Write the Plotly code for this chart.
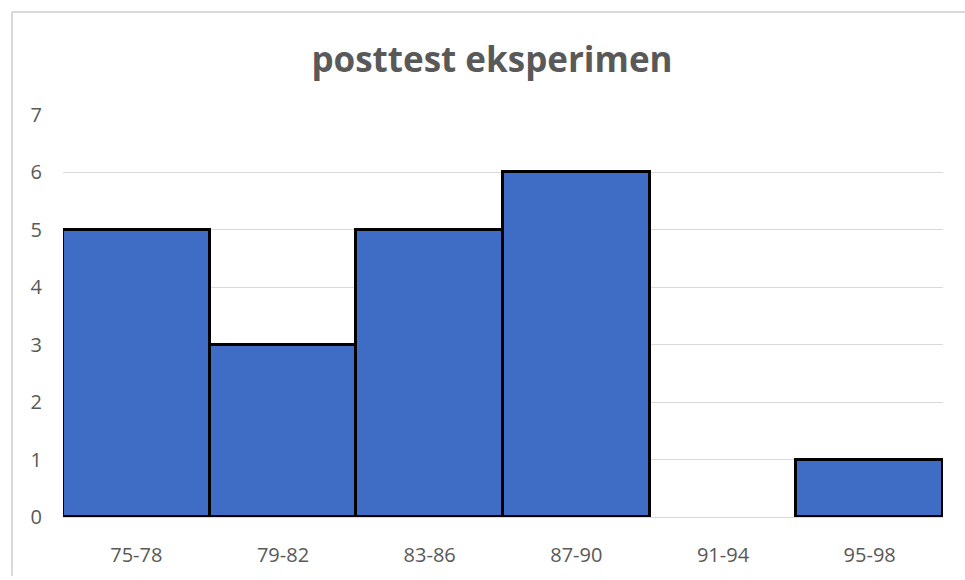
import plotly.graph_objects as go

categories = ["75-78", "79-82", "83-86", "87-90", "91-94", "95-98"]
frequencies = [5, 3, 5, 6, 0, 1]
y_ticks = [0, 1, 2, 3, 4, 5, 6, 7]

W, H = 965, 580
L, R, T, B = 63, 943, 115, 525

fig = go.Figure(
    go.Bar(
        x=categories,
        y=[v if v else None for v in frequencies],
        marker=dict(color="#3F6DC5", line=dict(color="#000000", width=3)),
        hoverinfo="x+y",
    )
)

def px_to_paper_x(px):
    return (px - L) / (R - L)

def px_to_paper_y(py):
    return (B - py) / (B - T)

fig.update_layout(
    width=W,
    height=H,
    margin=dict(l=L, r=W - R, t=T, b=H - B, pad=0),
    paper_bgcolor="white",
    plot_bgcolor="white",
    bargap=0,
    showlegend=False,
    title=dict(
        text="<b>posttest eksperimen</b>",
        x=492 / W,
        xref="container",
        y=1 - 60 / H,
        yref="container",
        xanchor="center",
        yanchor="middle",
        font=dict(family="Open Sans", size=35, color="#595959"),
    ),
    font=dict(family="Open Sans", color="#595959"),
    xaxis=dict(
        showgrid=False,
        showline=True,
        linecolor="#D9D9D9",
        linewidth=1,
        ticks="",
        tickfont=dict(size=20, color="#595959"),
        ticklabelstandoff=20,
    ),
    yaxis=dict(
        range=[0, 7],
        tickvals=y_ticks,
        showgrid=True,
        gridcolor="#D9D9D9",
        gridwidth=1,
        zeroline=False,
        showline=False,
        ticks="",
        tickfont=dict(size=20, color="#595959"),
        ticklabelstandoff=20,
    ),
    shapes=[
        dict(type="line", xref="paper", yref="paper",
             x0=px_to_paper_x(12), x1=px_to_paper_x(12),
             y0=px_to_paper_y(10), y1=px_to_paper_y(H + 5),
             line=dict(color="#D9D9D9", width=2)),
        dict(type="line", xref="paper", yref="paper",
             x0=px_to_paper_x(12), x1=px_to_paper_x(W + 5),
             y0=px_to_paper_y(10), y1=px_to_paper_y(10),
             line=dict(color="#D9D9D9", width=2)),
    ],
)

fig.write_html(
    "out.html",
    config={"displayModeBar": False},
    post_script="document.body.style.margin='0';document.body.style.overflow='hidden';",
)
